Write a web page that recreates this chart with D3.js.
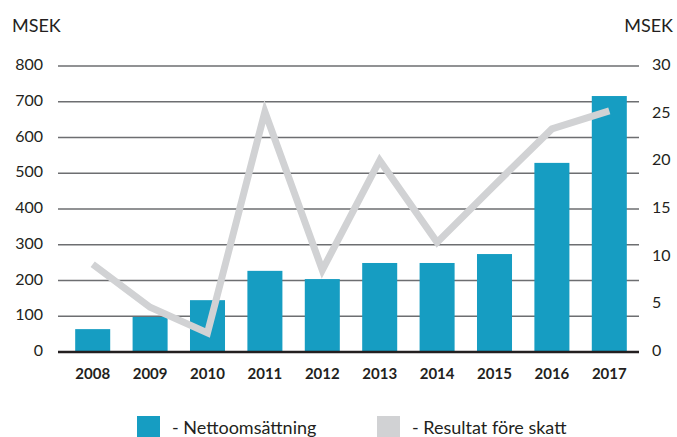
<!DOCTYPE html>
<html>
<head>
<meta charset="utf-8">
<script src="https://cdn.jsdelivr.net/npm/d3@7"></script>
<style>
  body { margin: 0; background: #fff; }
  text { font-family: Lato, "Open Sans", sans-serif; fill: #231f20; }
</style>
</head>
<body>
<svg width="677" height="437"></svg>
<script>
const years = ["2008", "2009", "2010", "2011", "2012", "2013", "2014", "2015", "2016", "2017"];
const nettoomsattning = [64, 98, 145, 227, 204, 249, 249, 274, 529, 716];
const resultat = [9.2, 4.7, 2.0, 25.2, 8.6, 20.1, 11.5, 17.5, 23.4, 25.3];
const leftTicks = [0, 100, 200, 300, 400, 500, 600, 700, 800];
const rightTicks = [0, 5, 10, 15, 20, 25, 30];

const svg = d3.select("svg");
const plotLeft = 58, plotRight = 639, plotTop = 66, plotBottom = 352;

const x = d3.scaleBand().domain(years).range([64, 638]).paddingInner(0.39).paddingOuter(0.195);
const yL = d3.scaleLinear().domain([0, 800]).range([plotBottom, plotTop]);
const yR = d3.scaleLinear().domain([0, 30]).range([plotBottom, plotTop]);

// gridlines
svg.append("g").selectAll("line")
    .data(leftTicks.filter(d => d > 0))
    .enter().append("line")
    .attr("x1", plotLeft).attr("x2", plotRight)
    .attr("y1", d => yL(d)).attr("y2", d => yL(d))
    .attr("stroke", "#6d6e71").attr("stroke-width", 1.5);

// left axis labels
svg.append("g").selectAll("text")
    .data(leftTicks)
    .enter().append("text")
    .attr("x", 43).attr("y", d => yL(d))
    .attr("text-anchor", "end").attr("dominant-baseline", "middle")
    .style("font-size", "16px")
    .text(d => d);

// right axis labels
svg.append("g").selectAll("text")
    .data(rightTicks)
    .enter().append("text")
    .attr("x", 652).attr("y", d => yR(d))
    .attr("dominant-baseline", "middle")
    .style("font-size", "16px")
    .text(d => d);

svg.append("text").attr("x", 12).attr("y", 32).style("font-size", "18px").text("MSEK");
svg.append("text").attr("x", 673).attr("y", 32).attr("text-anchor", "end").style("font-size", "18px").text("MSEK");

// bars
svg.append("g").selectAll("rect")
    .data(years)
    .enter().append("rect")
    .attr("x", d => x(d))
    .attr("width", x.bandwidth())
    .attr("y", (d, i) => yL(nettoomsattning[i]))
    .attr("height", (d, i) => plotBottom - yL(nettoomsattning[i]))
    .attr("fill", "#169dc2");

// baseline
svg.append("line")
    .attr("x1", plotLeft).attr("x2", plotRight)
    .attr("y1", plotBottom).attr("y2", plotBottom)
    .attr("stroke", "#231f20").attr("stroke-width", 2.5);

// line series
const line = d3.line()
    .x((d, i) => x(years[i]) + x.bandwidth() / 2)
    .y(d => yR(d));
svg.append("path")
    .datum(resultat)
    .attr("d", line)
    .attr("fill", "none")
    .attr("stroke", "#d1d2d4")
    .attr("stroke-width", 7)
    .attr("stroke-linejoin", "miter");

// year labels
svg.append("g").selectAll("text")
    .data(years)
    .enter().append("text")
    .attr("x", d => x(d) + x.bandwidth() / 2)
    .attr("y", 379)
    .attr("text-anchor", "middle")
    .style("font-size", "15px").style("font-weight", "bold")
    .text(d => d);

// legend
const legend = [
  { label: "- Nettoomsättning", color: "#169dc2", x: 137 },
  { label: "- Resultat före skatt", color: "#d1d2d4", x: 377 }
];
const lg = svg.append("g").selectAll("g").data(legend).enter().append("g");
lg.append("rect")
    .attr("x", d => d.x).attr("y", 416)
    .attr("width", 23).attr("height", 23)
    .attr("fill", d => d.color);
lg.append("text")
    .attr("x", d => d.x + 35).attr("y", 434)
    .style("font-size", "18px")
    .text(d => d.label);
</script>
</body>
</html>
